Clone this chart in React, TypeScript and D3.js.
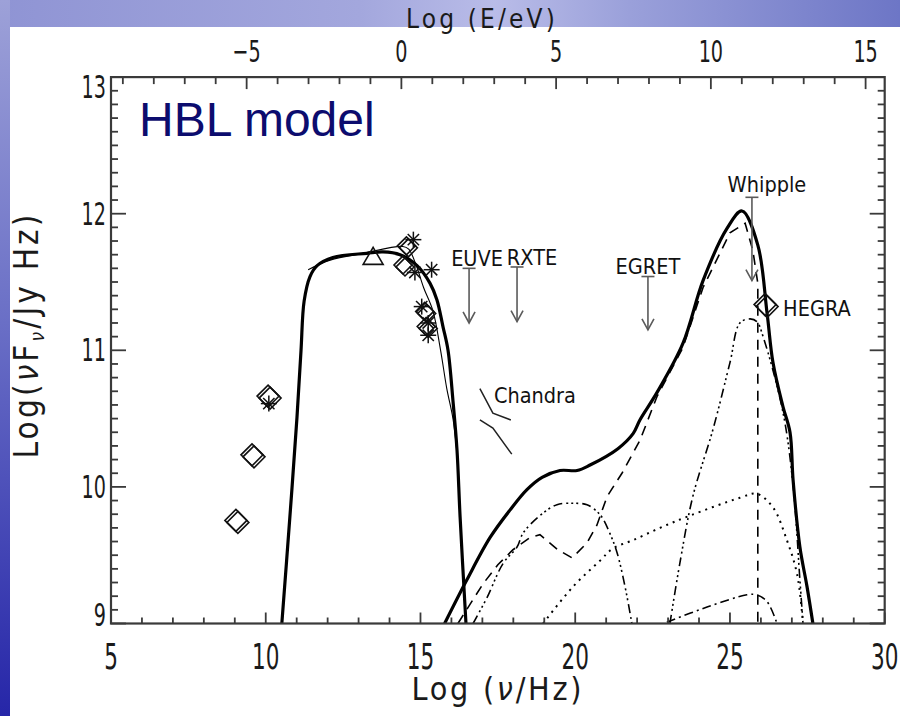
import React from "react";
import * as d3 from "d3";

const W = 900;
const H = 716;

// ---- axes ----
const xMajorTicks = [5, 10, 15, 20, 25, 30];
const yMajorTicks = [9, 10, 11, 12, 13];
const eMajorTicks = [-5, 0, 5, 10, 15];
const LOG_NU_PER_EV = 14.383; // log10(nu/Hz) at E = 1 eV

// ---- thick synchrotron model ----
const syncNu = [10.52, 10.78, 11.01, 11.14, 11.24, 11.43, 11.66, 12.17, 13.27, 13.79, 14.34, 14.89, 15.31, 15.53, 15.73, 15.89, 16.05, 16.18, 16.28, 16.47];
const syncLog = [9.0, 9.78, 10.51, 11.0, 11.36, 11.54, 11.62, 11.68, 11.71, 11.72, 11.7, 11.62, 11.49, 11.37, 11.17, 11.0, 10.63, 10.27, 9.78, 9.0];

// ---- thin synchrotron fit ----
const thinNu = [11.37, 12.08, 13.14, 14.43, 14.62, 14.85, 15.1, 15.4, 15.65, 15.85, 16.05, 16.2];
const thinLog = [11.59, 11.66, 11.71, 11.76, 11.74, 11.63, 11.46, 11.29, 11.0, 10.72, 10.5, 10.2];

// ---- thick total Compton model ----
const compNu = [15.78, 16.5, 17.25, 17.89, 18.44, 18.93, 19.51, 20.06, 20.48, 21.38, 21.87, 22.09, 22.64, 23.48, 24.13, 24.9, 25.39, 25.9, 26.2, 26.39, 26.71, 26.94, 27.04, 27.26, 27.49, 27.68];
const compLog = [9.0, 9.32, 9.63, 9.83, 9.98, 10.07, 10.12, 10.12, 10.16, 10.28, 10.39, 10.49, 10.69, 11.05, 11.51, 11.89, 12.02, 11.77, 11.27, 10.91, 10.59, 10.4, 10.05, 9.56, 9.27, 9.0];

// ---- dashed component ----
const dashNu = [16.21, 16.6, 17.02, 17.5, 17.99, 18.54, 18.86, 19.44, 19.9, 20.38, 20.7, 21.03, 21.51, 22.09, 22.64, 23.48, 24.13, 25.0, 25.49, 25.74, 25.9, 25.9];
const dashLog = [9.0, 9.14, 9.29, 9.43, 9.54, 9.63, 9.65, 9.54, 9.48, 9.59, 9.72, 9.93, 10.1, 10.34, 10.66, 11.02, 11.46, 11.86, 11.93, 11.73, 11.49, 9.0];

// ---- dash-dot-dot-dot low-energy hump ----
const hump1Nu = [16.7, 17.15, 17.67, 18.12, 18.31, 18.86, 19.41, 19.93, 20.38, 20.7, 20.86, 21.12, 21.35, 21.61, 21.83];
const hump1Log = [9.0, 9.19, 9.44, 9.56, 9.66, 9.79, 9.87, 9.88, 9.87, 9.82, 9.78, 9.66, 9.52, 9.27, 9.0];

// ---- dotted component ----
const dotNu = [18.96, 19.93, 20.8, 21.22, 21.87, 22.74, 23.71, 25.32, 25.87, 26.39, 26.84, 27.17, 27.36];
const dotLog = [9.0, 9.27, 9.46, 9.55, 9.61, 9.7, 9.79, 9.92, 9.95, 9.85, 9.61, 9.36, 9.0];

// ---- dash-dot-dot-dot high-energy hump ----
const hump2Nu = [23.06, 23.38, 23.8, 24.45, 25.0, 25.32, 25.65, 25.87, 26.07, 26.71, 27.04, 27.26, 27.36];
const hump2Log = [9.0, 9.44, 9.93, 10.42, 10.91, 11.2, 11.23, 11.21, 11.1, 10.55, 10.01, 9.32, 9.0];

// ---- dash-dot low hump ----
const hump3Nu = [22.96, 24.26, 25.55, 25.87, 26.2, 26.52];
const hump3Log = [9.01, 9.12, 9.21, 9.21, 9.16, 9.0];

// ---- Chandra bow-tie ----
const chandraUpNu = [16.92, 17.34, 17.92];
const chandraUpLog = [10.72, 10.54, 10.49];
const chandraLoNu = [16.92, 17.34, 17.95];
const chandraLoLog = [10.49, 10.43, 10.24];

// ---- data points ----
const diamondNu = [9.1, 9.62, 10.14, 14.61, 14.5, 15.2, 15.25, 26.2];
const diamondLog = [9.74, 10.22, 10.65, 11.75, 11.61, 11.27, 11.16, 11.32];
const starNu = [10.1, 14.77, 14.82, 15.36, 15.04, 15.25, 15.25];
const starLog = [10.61, 11.81, 11.57, 11.59, 11.32, 11.2, 11.11];
const triangleNu = [13.47];
const triangleLog = [11.68];

// ---- upper limits ----
const limitNames = ["EUVE", "RXTE", "EGRET", "Whipple"];
const limitNu = [16.57, 18.12, 22.35, 25.71];
const limitTop = [11.6, 11.61, 11.54, 12.12];
const limitTip = [11.2, 11.21, 11.15, 11.51];

const x = d3.scaleLinear().domain([5, 30]).range([111, 884.7]);
const y = d3.scaleLinear().domain([9, 13]).range([623.5, 77.1]);

const smooth = (nu: number[], lg: number[]) =>
  d3
    .line<number>()
    .x((_, i) => x(nu[i]))
    .y((_, i) => y(lg[i]))
    .curve(d3.curveCatmullRom.alpha(0.5))(nu) as string;

const straight = (nu: number[], lg: number[]) =>
  d3
    .line<number>()
    .x((_, i) => x(nu[i]))
    .y((_, i) => y(lg[i]))(nu) as string;

const FONT = "'DejaVu Sans', 'Liberation Sans', sans-serif";

function T(props: any) {
  const { x: tx, y: ty, sx = 1, rot = 0, children, ...rest } = props;
  return (
    <text
      transform={`translate(${tx},${ty}) rotate(${rot}) scale(${sx},1)`}
      fontFamily={FONT}
      {...rest}
    >
      {children}
    </text>
  );
}

function Diamond({ cx, cy, r }: { cx: number; cy: number; r: number }) {
  const p = (dx: number, dy: number) =>
    `M${cx + dx},${cy - r + dy}L${cx + r + dx},${cy + dy}L${cx + dx},${cy + r + dy}L${cx - r + dx},${cy + dy}Z`;
  return (
    <g fill="none" stroke="#111" strokeWidth={1.6}>
      <path d={p(0, 0)} />
      <path d={p(-2, -2)} />
    </g>
  );
}

function Star({ cx, cy, r }: { cx: number; cy: number; r: number }) {
  const d = r * Math.SQRT1_2;
  return (
    <g stroke="#111" strokeWidth={1.5}>
      <line x1={cx - r} y1={cy} x2={cx + r} y2={cy} />
      <line x1={cx} y1={cy - r} x2={cx} y2={cy + r} />
      <line x1={cx - d} y1={cy - d} x2={cx + d} y2={cy + d} />
      <line x1={cx - d} y1={cy + d} x2={cx + d} y2={cy - d} />
    </g>
  );
}

export default function App() {
  const left = x(5);
  const right = x(30);
  const top = y(13);
  const bottom = y(9);

  const xMinor = d3.range(5, 31);
  const yMinor = d3.range(90, 131).map((v) => v / 10);
  const eMinor = d3.range(-9, 16).filter((e) => e + LOG_NU_PER_EV >= 5 && e + LOG_NU_PER_EV <= 30);

  const axisColor = "#3a3a3a";
  const labelColor = "#1a1a1a";

  return (
    <svg
      width={W}
      height={H}
      style={{ position: "absolute", left: 0, top: 0, display: "block" }}
    >
      <defs>
        <linearGradient id="leftG" x1="0" y1="0" x2="0" y2="1">
          <stop offset="0" stopColor="#9da1d8" />
          <stop offset="0.45" stopColor="#6a6fc6" />
          <stop offset="1" stopColor="#2626a8" />
        </linearGradient>
        <linearGradient id="topG" x1="0" y1="0" x2="1" y2="0">
          <stop offset="0" stopColor="#8f94d4" />
          <stop offset="0.4" stopColor="#a3a7dd" />
          <stop offset="0.55" stopColor="#b9bce8" />
          <stop offset="0.7" stopColor="#9aa0da" />
          <stop offset="1" stopColor="#6d76c6" />
        </linearGradient>
        <clipPath id="plotClip">
          <rect x={left} y={top} width={right - left} height={bottom - top} />
        </clipPath>
      </defs>

      {/* slide background */}
      <rect x={0} y={0} width={W} height={H} fill="#ffffff" />
      <rect x={0} y={0} width={W} height={27} fill="url(#topG)" />
      <rect x={0} y={0} width={10} height={H} fill="url(#leftG)" />

      {/* HBL model label */}
      <text x={139} y={136} fontFamily="'Liberation Sans', Arial, sans-serif" fontSize={48} fill="#0c0c6e">
        HBL model
      </text>

      {/* curves */}
      <g clipPath="url(#plotClip)" fill="none" stroke="#000">
        <path d={smooth(hump3Nu, hump3Log)} strokeWidth={1.6} strokeDasharray="9,4,2,4" />
        <path d={smooth(dotNu, dotLog)} strokeWidth={2} strokeDasharray="2,5" />
        <path d={smooth(hump2Nu, hump2Log)} strokeWidth={1.6} strokeDasharray="9,4,2,3,2,3,2,4" />
        <path d={smooth(hump1Nu, hump1Log)} strokeWidth={1.6} strokeDasharray="9,4,2,3,2,3,2,4" />
        <path d={straight(dashNu, dashLog)} strokeWidth={1.6} strokeDasharray="10,7" />
        <path d={smooth(thinNu, thinLog)} strokeWidth={1.1} />
        <path d={smooth(syncNu, syncLog)} strokeWidth={3.2} />
        <path d={smooth(compNu, compLog)} strokeWidth={3.2} />
        <path d={straight(chandraUpNu, chandraUpLog)} strokeWidth={1.5} stroke="#222" />
        <path d={straight(chandraLoNu, chandraLoLog)} strokeWidth={1.5} stroke="#222" />
      </g>

      {/* upper limits */}
      <g stroke="#5a5a5a" strokeWidth={1.6} fill="none">
        {limitNu.map((nu, i) => {
          const cx = x(nu);
          const y0 = y(limitTop[i]);
          const y1 = y(limitTip[i]);
          return (
            <g key={i}>
              <line x1={cx - 6.5} y1={y0} x2={cx + 6.5} y2={y0} />
              <line x1={cx} y1={y0} x2={cx} y2={y1} />
              <path d={`M${cx - 6},${y1 - 11}L${cx},${y1}L${cx + 6},${y1 - 11}`} />
            </g>
          );
        })}
      </g>

      {/* data points */}
      {diamondNu.map((nu, i) => (
        <Diamond key={"d" + i} cx={x(nu)} cy={y(diamondLog[i])} r={i === 7 ? 11 : i >= 3 ? 9 : 11} />
      ))}
      {starNu.map((nu, i) => (
        <Star key={"s" + i} cx={x(nu)} cy={y(starLog[i])} r={8} />
      ))}
      {triangleNu.map((nu, i) => {
        const cx = x(nu);
        const cy = y(triangleLog[i]);
        return (
          <path
            key={"t" + i}
            d={`M${cx},${cy - 10}L${cx + 10},${cy + 7}L${cx - 10},${cy + 7}Z`}
            fill="none"
            stroke="#111"
            strokeWidth={1.6}
          />
        );
      })}

      {/* annotation labels */}
      <g fill="#111" fontSize={22}>
        {limitNames.map((name, i) => {
          const cx = x(limitNu[i]);
          const off = [8, 15, 0, 15][i];
          const by = [-2, -2, -3, -5][i];
          return (
            <T key={name} x={cx + off} y={y(limitTop[i]) + by} sx={0.88} textAnchor="middle">
              {name}
            </T>
          );
        })}
        <T x={x(diamondNu[7]) + 16} y={y(diamondLog[7]) + 9} sx={0.88}>
          HEGRA
        </T>
        <T x={x(chandraUpNu[0]) + 14} y={y(chandraUpLog[0]) + 14} sx={0.88}>
          Chandra
        </T>
      </g>

      {/* frame */}
      <rect x={left} y={top} width={right - left} height={bottom - top} fill="none" stroke={axisColor} strokeWidth={2.2} />

      {/* bottom & top ticks (nu) */}
      <g stroke={axisColor} strokeWidth={1.8}>
        {xMinor.map((v) => {
          const major = v % 5 === 0;
          const px = x(v);
          return <line key={"bx" + v} x1={px} y1={bottom} x2={px} y2={bottom - (major ? 11 : 6)} />;
        })}
        {eMinor.map((e) => {
          const major = e % 5 === 0;
          const px = x(e + LOG_NU_PER_EV);
          return <line key={"te" + e} x1={px} y1={top} x2={px} y2={top + (major ? 12 : 7)} />;
        })}
        {yMinor.map((v) => {
          const major = Math.abs(v - Math.round(v)) < 1e-6;
          const py = y(v);
          return (
            <g key={"y" + v}>
              <line x1={left} y1={py} x2={left + (major ? 15 : 7)} y2={py} />
              <line x1={right} y1={py} x2={right - (major ? 15 : 7)} y2={py} />
            </g>
          );
        })}
      </g>

      {/* tick labels */}
      <g fill={labelColor}>
        {xMajorTicks.map((v) => (
          <T key={"xl" + v} x={x(v)} y={669} sx={0.6} fontSize={36} textAnchor="middle">
            {v}
          </T>
        ))}
        {eMajorTicks.map((e) => (
          <T key={"el" + e} x={x(e + LOG_NU_PER_EV)} y={62} sx={0.62} fontSize={31} textAnchor="middle">
            {e < 0 ? "\u2212" + Math.abs(e) : e}
          </T>
        ))}
        {yMajorTicks.map((v) => (
          <T
            key={"yl" + v}
            x={106}
            y={Math.min(Math.max(y(v), top + 10), bottom - 9) + 11}
            sx={0.6}
            fontSize={32}
            textAnchor="end"
          >
            {v}
          </T>
        ))}
      </g>

      {/* axis titles */}
      <g fill={labelColor}>
        <T x={(left + right) / 2} y={700} sx={0.9} fontSize={32} letterSpacing={3} textAnchor="middle">
          Log (<tspan fontStyle="italic">ν</tspan>/Hz)
        </T>
        <T x={482} y={28} sx={0.9} fontSize={26} letterSpacing={3.5} textAnchor="middle">
          Log (E/eV)
        </T>
        <T x={38} y={335} rot={-90} sx={0.9} fontSize={33} letterSpacing={3.5} textAnchor="middle">
          Log(<tspan fontStyle="italic">ν</tspan>F
          <tspan fontSize={19} fontStyle="italic" dy={6}>ν</tspan>
          <tspan dy={-6}>/Jy Hz)</tspan>
        </T>
      </g>
    </svg>
  );
}
